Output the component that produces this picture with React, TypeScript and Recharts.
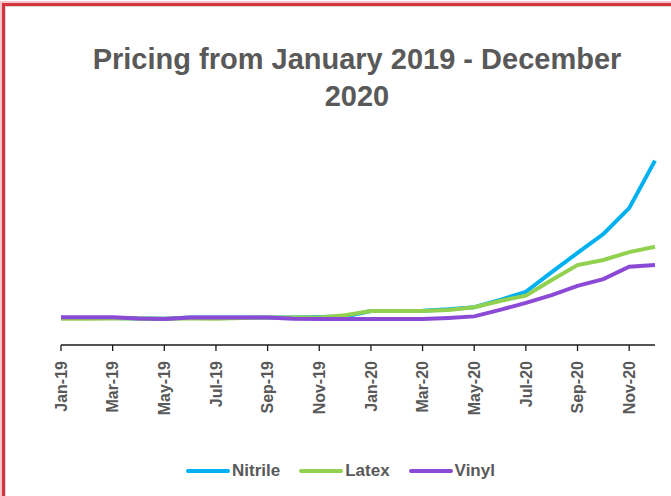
import React from 'react';
import { LineChart, Line, XAxis, YAxis, Legend } from 'recharts';

const months = ['Jan-19','Feb-19','Mar-19','Apr-19','May-19','Jun-19','Jul-19','Aug-19','Sep-19','Oct-19','Nov-19','Dec-19','Jan-20','Feb-20','Mar-20','Apr-20','May-20','Jun-20','Jul-20','Aug-20','Sep-20','Oct-20','Nov-20','Dec-20'];
const nitrile = [1.00,1.00,1.00,0.98,0.97,1.02,1.02,1.02,1.02,1.02,1.04,1.06,1.26,1.26,1.27,1.32,1.40,1.67,1.97,2.70,3.41,4.11,5.07,6.83];
const latex   = [0.97,0.97,0.98,0.98,0.97,0.98,0.97,1.00,1.02,1.02,1.02,1.10,1.26,1.26,1.26,1.30,1.40,1.63,1.83,2.41,2.96,3.15,3.44,3.64];
const vinyl   = [1.03,1.03,1.03,0.98,0.96,1.02,1.02,1.02,1.02,0.97,0.96,0.96,0.96,0.96,0.96,1.00,1.06,1.30,1.56,1.85,2.19,2.44,2.90,2.96];

const seriesNames = ['Nitrile', 'Latex', 'Vinyl'];
const seriesColors = ['#00B0F0', '#92D050', '#8B4AD6'];
const titleText = ['Pricing from January 2019 - December', '2020'];

const data = months.map((m, i) => ({ month: m, Nitrile: nitrile[i], Latex: latex[i], Vinyl: vinyl[i] }));

const FONT = '"Liberation Sans", Arial, sans-serif';
const GREY = '#595959';

const Tick = (props: any) => {
  const { x, y, payload } = props;
  return (
    <g transform={`translate(${x},${y})`}>
      <text transform="rotate(-90)" x={0} y={0} dy="0.36em" textAnchor="end"
        fill={GREY} fontSize={16} fontWeight="bold" fontFamily={FONT}>
        {payload.value}
      </text>
    </g>
  );
};

const LegendContent = (props: any) => {
  const payload = [...(props.payload || [])].sort(
    (a: any, b: any) => seriesNames.indexOf(a.value) - seriesNames.indexOf(b.value)
  );
  return (
    <div style={{ height: 36, display: 'flex', alignItems: 'flex-start' }}>
      <div style={{ display: 'flex', alignItems: 'center', height: 32, marginLeft: 124 }}>
        {payload.map((p: any) => (
          <div key={p.value} style={{ display: 'flex', alignItems: 'center', marginRight: 18 }}>
            <svg width={46} height={8} style={{ marginRight: 1 }}>
              <line x1={3} y1={4} x2={43} y2={4} stroke={p.color} strokeWidth={4} strokeLinecap="round" />
            </svg>
            <span style={{ fontFamily: FONT, fontWeight: 'bold', fontSize: 17, color: GREY }}>{p.value}</span>
          </div>
        ))}
      </div>
    </div>
  );
};

export default function App() {
  return (
    <div style={{ position: 'absolute', left: 0, top: 0, width: 671, height: 496, overflow: 'hidden', background: '#fff' }}>
      <div style={{ position: 'absolute', left: 2, top: 3, width: 720, height: 540, border: '3px solid #D7333B', boxShadow: '0 0 0 2px #F5C9CB, inset 0 0 0 1px #D8D8D8', boxSizing: 'border-box' }} />
      <div style={{ position: 'absolute', left: 57, top: 41, width: 600, textAlign: 'center', fontFamily: FONT, fontWeight: 'bold', fontSize: 29, lineHeight: '37px', color: GREY }}>
        <div>{titleText[0]}</div>
        <div>{titleText[1]}</div>
      </div>
      <div style={{ position: 'absolute', left: 0, top: 0 }}>
        <LineChart width={671} height={496} data={data} margin={{ top: 129, left: 61, right: 16, bottom: 5 }}>
          <XAxis dataKey="month" scale="point" padding={{ left: 0, right: 0 }} interval={1}
            height={110} tickSize={6} tickMargin={10}
            axisLine={{ stroke: '#1a1a1a', strokeWidth: 1.3 }} tickLine={{ stroke: '#1a1a1a', strokeWidth: 1.3 }}
            tick={<Tick />} />
          <YAxis hide domain={[0, 8]} />
          <Legend verticalAlign="bottom" content={<LegendContent />} />
          {seriesNames.map((n, i) => (
            <Line key={n} type="linear" dataKey={n} stroke={seriesColors[i]} strokeWidth={4}
              dot={false} isAnimationActive={false} />
          ))}
        </LineChart>
      </div>
    </div>
  );
}
